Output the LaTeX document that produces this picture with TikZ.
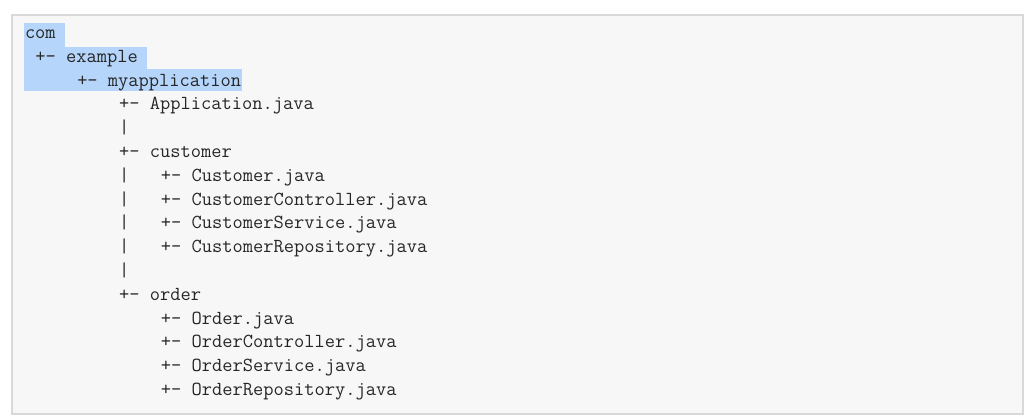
\documentclass[tikz,border=0pt]{standalone}
\usetikzlibrary{positioning}
\definecolor{codebg}{HTML}{F7F7F7}
\definecolor{codeborder}{HTML}{D9D9D9}
\definecolor{codetext}{HTML}{262626}
\definecolor{selblue}{HTML}{B5D5FB}
\begin{document}
\begin{tikzpicture}[x=1pt,y=1pt,
  codeline/.style={anchor=base west, inner sep=0pt, outer sep=0pt, text=codetext,
    font=\fontsize{19.9}{24}\selectfont\ttfamily},
  selection/.style={fill=selblue, draw=none}]
\useasboundingbox (0,0) rectangle (1033,420);
\fill[white] (0,0) rectangle (1033,420);
% code box
\draw[codeborder, line width=1.5pt, fill=codebg] (12,6) rectangle (1023,405);
% selection highlight
\fill[selection] (24,397) rectangle (65,373);
\fill[selection] (24,373) rectangle (147,351);
\fill[selection] (24,351) rectangle (242,329);
% lines
\node[codeline] (l0) at (25,381.5) {com};
\node[codeline] (l1) at (35.45,357.7) {+- example};
\node[codeline] (l2) at (77.25,333.9) {+- myapplication};
\node[codeline] (l3) at (119.05,310.1) {+- Application.java};
\node[codeline] (l4) at (119.05,286.3) {|};
\node[codeline] (l5) at (119.05,262.5) {+- customer};
\node[codeline] (b6) at (119.05,238.7) {|};
\node[codeline] (l6) at (160.85,238.7) {+- Customer.java};
\node[codeline] (b7) at (119.05,214.9) {|};
\node[codeline] (l7) at (160.85,214.9) {+- CustomerController.java};
\node[codeline] (b8) at (119.05,191.1) {|};
\node[codeline] (l8) at (160.85,191.1) {+- CustomerService.java};
\node[codeline] (b9) at (119.05,167.3) {|};
\node[codeline] (l9) at (160.85,167.3) {+- CustomerRepository.java};
\node[codeline] (l10) at (119.05,143.5) {|};
\node[codeline] (l11) at (119.05,119.7) {+- order};
\node[codeline] (l12) at (160.85,95.9) {+- Order.java};
\node[codeline] (l13) at (160.85,72.1) {+- OrderController.java};
\node[codeline] (l14) at (160.85,48.3) {+- OrderService.java};
\node[codeline] (l15) at (160.85,24.5) {+- OrderRepository.java};
\end{tikzpicture}
\end{document}
